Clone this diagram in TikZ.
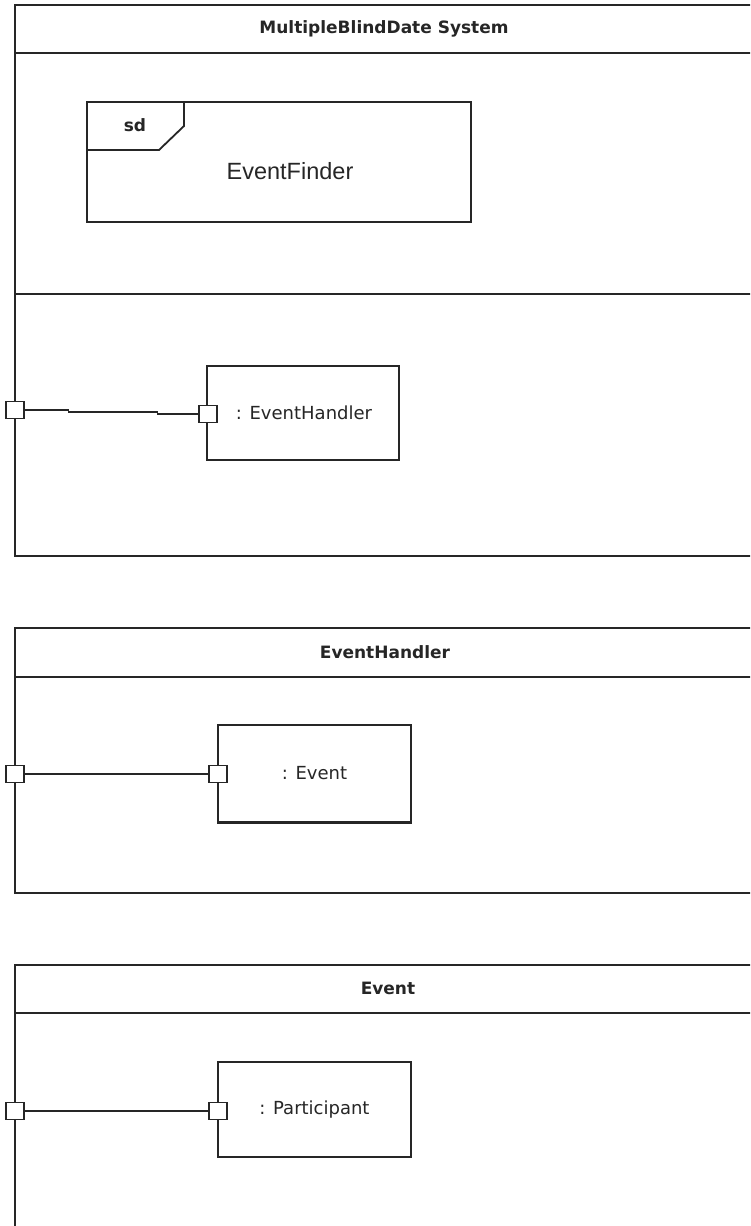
\documentclass[tikz,border=0pt]{standalone}
\usepackage{fontspec}
\setmainfont{DejaVu Sans}
\newfontfamily\arialfont{Liberation Sans}
\definecolor{inkc}{HTML}{262626}
\begin{document}
\begin{tikzpicture}[x=1pt,y=-1pt,
  frameline/.style={draw=inkc,line width=1.8pt},
  partbox/.style={draw=inkc,line width=1.5pt,rectangle,inner sep=0pt,
    minimum width=193pt,text=inkc,font=\fontsize{18}{21}\selectfont},
  portbox/.style={draw=inkc,fill=white,line width=1.4pt,rectangle,inner sep=0pt,
    minimum width=18pt,minimum height=17pt},
  ftitle/.style={text=inkc,font=\fontsize{17}{20}\selectfont\bfseries},
  wire/.style={draw=inkc,line width=1.5pt}]
\useasboundingbox (0,0) rectangle (750,1226);
\fill[white] (0,0) rectangle (750,1226);
\clip (0,0) rectangle (750,1226);

% --- MultipleBlindDate System ---
\draw[frameline] (15,5) rectangle (757,556);
\draw[frameline] (15,53) -- (757,53);
\draw[frameline] (15,294) -- (757,294);
\node[ftitle] (t1) at (384,29) {MultipleBlindDate System};

% interaction frame
\draw[frameline] (87,102) rectangle (471,222);
\draw[frameline] (87,150) -- (159,150) -- (184,126) -- (184,102);
\node[ftitle] (sd) at (135,125) {sd};
\node[text=inkc,font=\arialfont\fontsize{23.5}{26}\selectfont] (ef) at (290,171) {EventFinder};

\node[partbox,minimum width=192pt,minimum height=94pt] (eh) at (303,413) {\hspace*{2pt}: EventHandler};
\node[portbox] (op1) at (15,410) {};
\node[portbox] (ip1) at (208,414) {};
\draw[wire] (op1.east) -- ++(44,0) -- ++(0,2) -- ++(89,0) |- (ip1.west);

% --- EventHandler ---
\draw[frameline] (15,628) rectangle (757,893);
\draw[frameline] (15,677) -- (757,677);
\node[ftitle] (t2) at (385,652) {EventHandler};

\node[partbox,minimum height=97pt] (ev) at (314.5,773.5) {: Event};
\draw[draw=inkc,line width=3pt] (ev.south west) -- (ev.south east);
\node[portbox] (op2) at (15,774) {};
\node[portbox] (ip2) at (218,774) {};
\draw[wire] (op2.east) -- (ip2.west);

% --- Event ---
\draw[frameline] (15,965) rectangle (757,1240);
\draw[frameline] (15,1013) -- (757,1013);
\node[ftitle] (t3) at (388,988) {Event};

\node[partbox,minimum height=95pt] (pa) at (314.5,1109.5) {: Participant};
\node[portbox] (op3) at (15,1111) {};
\node[portbox] (ip3) at (218,1111) {};
\draw[wire] (op3.east) -- (ip3.west);
\end{tikzpicture}
\end{document}
